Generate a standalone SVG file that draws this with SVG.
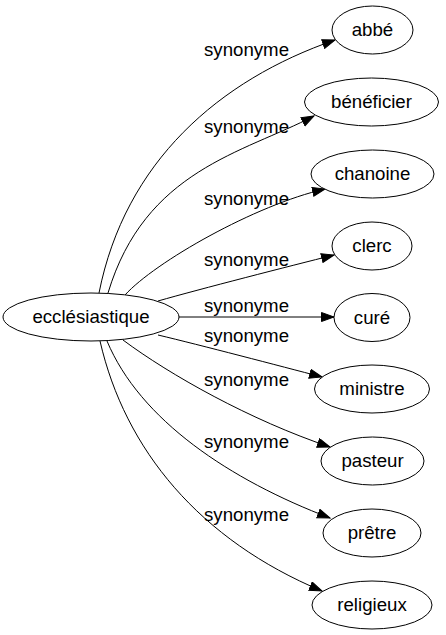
<svg xmlns="http://www.w3.org/2000/svg" width="446" height="635" viewBox="0 0 446 635">
<style>
.n ellipse{fill:#fff;stroke:#000;stroke-width:1}
text{font-family:"Liberation Sans",Arial,sans-serif;font-size:18.67px;fill:#000}
.n text{text-anchor:middle}
.e path{fill:none;stroke:#000;stroke-width:1;marker-end:url(#arr)}
.e text{text-anchor:start}
</style>
<defs>
<marker id="arr" markerUnits="userSpaceOnUse" markerWidth="16" markerHeight="12" refX="13" refY="5" orient="auto">
<path d="M0.5,0.5 L13,5 L0.5,9.5 z" fill="#000" stroke="#000" stroke-width="1"/>
</marker>
</defs>
<rect width="446" height="635" fill="#fff"/>
<g id="edges" class="e">
<path d="M99,293 C125,162 219,80 335,40"/>
<path d="M108,293 C145,170 243,153 314,116"/>
<path d="M125,295 C155,262 255,205 325,189"/>
<path d="M158,301 C200,289 290,266 334,255"/>
<path d="M179,317 L334,317"/>
<path d="M158,335 C200,345 280,366 322,377"/>
<path d="M123,340 C170,375 250,420 330,447"/>
<path d="M107,341 C140,420 230,480 330,518"/>
<path d="M100,341 C125,450 200,540 322,591"/>
<text x="204" y="56">synonyme</text>
<text x="204" y="133">synonyme</text>
<text x="204" y="205">synonyme</text>
<text x="204" y="266">synonyme</text>
<text x="204" y="312">synonyme</text>
<text x="204" y="342">synonyme</text>
<text x="204" y="386">synonyme</text>
<text x="204" y="448">synonyme</text>
<text x="204" y="521">synonyme</text>
</g>
<g id="ecclesiastique" class="n"><ellipse cx="91" cy="317" rx="88" ry="24"/><text x="91" y="323">ecclésiastique</text></g>
<g id="abbe" class="n"><ellipse cx="372.5" cy="30" rx="40.5" ry="24"/><text x="372.5" y="36">abbé</text></g>
<g id="beneficier" class="n"><ellipse cx="371.5" cy="102" rx="67" ry="24"/><text x="371.5" y="108">bénéficier</text></g>
<g id="chanoine" class="n"><ellipse cx="372.5" cy="174" rx="61.5" ry="24"/><text x="372.5" y="180">chanoine</text></g>
<g id="clerc" class="n"><ellipse cx="372" cy="246" rx="40" ry="24"/><text x="372" y="252">clerc</text></g>
<g id="cure" class="n"><ellipse cx="372" cy="317.5" rx="38" ry="24"/><text x="372" y="323.5">curé</text></g>
<g id="ministre" class="n"><ellipse cx="372" cy="389" rx="57.5" ry="24"/><text x="372" y="395">ministre</text></g>
<g id="pasteur" class="n"><ellipse cx="372.5" cy="461" rx="51.5" ry="24"/><text x="372.5" y="467">pasteur</text></g>
<g id="pretre" class="n"><ellipse cx="372" cy="533" rx="49" ry="24"/><text x="372" y="539">prêtre</text></g>
<g id="religieux" class="n"><ellipse cx="372" cy="605" rx="60" ry="24"/><text x="372" y="611">religieux</text></g>
</svg>
